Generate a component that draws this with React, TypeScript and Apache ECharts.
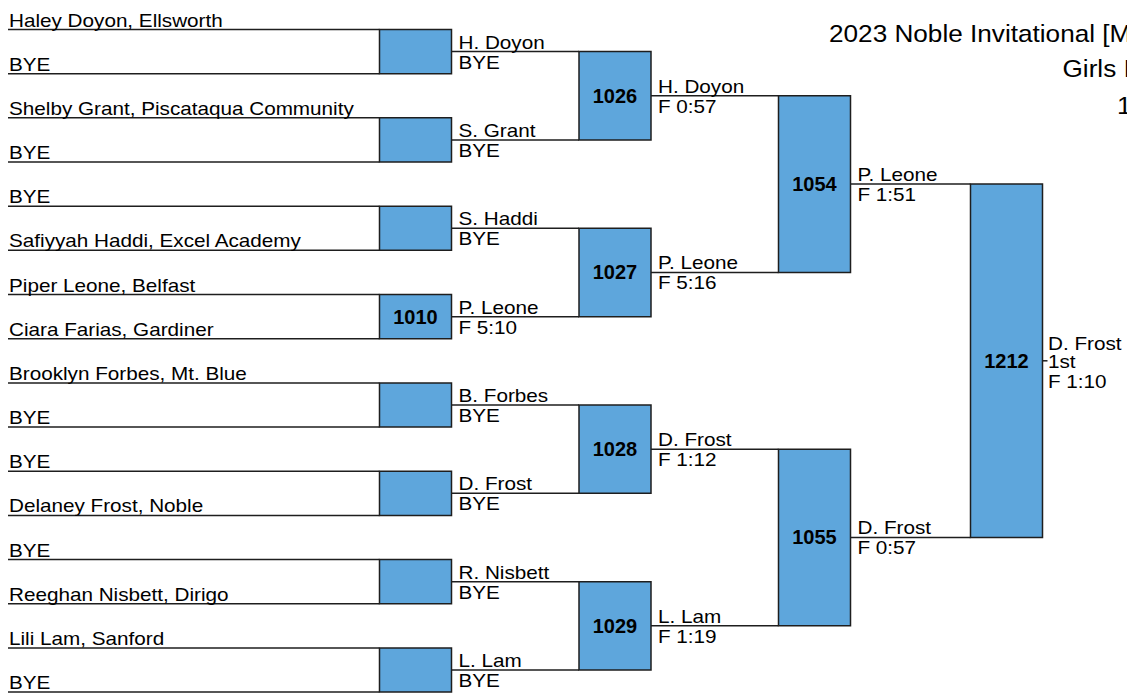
import React, { useEffect, useRef } from "react";
import * as echarts from "echarts";

// ---------- data ----------
const entrants = [
  "Haley Doyon, Ellsworth",
  "BYE",
  "Shelby Grant, Piscataqua Community",
  "BYE",
  "BYE",
  "Safiyyah Haddi, Excel Academy",
  "Piper Leone, Belfast",
  "Ciara Farias, Gardiner",
  "Brooklyn Forbes, Mt. Blue",
  "BYE",
  "BYE",
  "Delaney Frost, Noble",
  "BYE",
  "Reeghan Nisbett, Dirigo",
  "Lili Lam, Sanford",
  "BYE",
];

const round1Bouts = ["", "", "", "1010", "", "", "", ""];
const round1Winners = ["H. Doyon", "S. Grant", "S. Haddi", "P. Leone", "B. Forbes", "D. Frost", "R. Nisbett", "L. Lam"];
const round1Results = ["BYE", "BYE", "BYE", "F 5:10", "BYE", "BYE", "BYE", "BYE"];

const round2Bouts = ["1026", "1027", "1028", "1029"];
const round2Winners = ["H. Doyon", "P. Leone", "D. Frost", "L. Lam"];
const round2Results = ["F 0:57", "F 5:16", "F 1:12", "F 1:19"];

const round3Bouts = ["1054", "1055"];
const round3Winners = ["P. Leone", "D. Frost"];
const round3Results = ["F 1:51", "F 0:57"];

const finalBouts = ["1212"];
const finalWinners = ["D. Frost"];
const finalResults = ["F 1:10"];
const finalPlace = "1st";

const titleLines = ["2023 Noble Invitational [M", "Girls I", "1"];

const rounds = [
  { bouts: round1Bouts, winners: round1Winners, results: round1Results },
  { bouts: round2Bouts, winners: round2Winners, results: round2Results },
  { bouts: round3Bouts, winners: round3Winners, results: round3Results },
  { bouts: finalBouts, winners: finalWinners, results: finalResults },
];

// ---------- layout / style ----------
const W = 1127;
const H = 698;
const BOX_LEFT = [379.5, 579, 778.5, 970.5];
const BOX_W = 72;
const LINE_START = 8;
const FINAL_TICK = 5;
const FONT = "'Liberation Sans', Arial, Helvetica, sans-serif";
const FS = 18;
const SX = 1.15;
const BOLD_FS = 20;
const TITLE_FS = 24;
const TITLE_SX = 1.09;
const LINE_COLOR = "#1e1e1e";
const TEXT_COLOR = "#000";
const BOX_FILL = "#5ea6dc";

function center(r: number, k: number): number {
  if (r === 0) return k;
  const n = Math.pow(2, r);
  return k * n + (n - 1) / 2;
}

export default function App() {
  const ref = useRef<HTMLDivElement>(null);

  useEffect(() => {
    if (!ref.current) return;
    const chart = echarts.init(ref.current, undefined, { renderer: "svg" });

    const matchData: number[][] = [];
    rounds.forEach((rd, ri) => {
      rd.bouts.forEach((_, k) => matchData.push([ri + 1, k]));
    });
    const entrantData = entrants.map((_, j) => [j, j]);

    const txt = (x: number, y: number, text: string, va: string, extra: any = {}) => ({
      type: "text",
      x,
      y,
      scaleX: SX,
      style: {
        text,
        x: 0,
        y: 0,
        fontSize: FS,
        fontFamily: FONT,
        fill: TEXT_COLOR,
        align: "left",
        verticalAlign: va,
        ...extra,
      },
    });

    const titleText = (x: number, y: number, text: string) => ({
      type: "text",
      x,
      y,
      scaleX: TITLE_SX,
      style: {
        text,
        x: 0,
        y: 0,
        fontSize: TITLE_FS,
        fontFamily: FONT,
        fill: TEXT_COLOR,
        align: "left",
        verticalAlign: "middle",
      },
    });

    const option: any = {
      animation: false,
      grid: { left: 0, right: 0, top: 29.5, bottom: 5.9 },
      xAxis: { type: "value", min: 0, max: W, show: false },
      yAxis: { type: "value", min: 0, max: 15, inverse: true, show: false },
      graphic: [
        titleText(829, 33, titleLines[0]),
        titleText(1062.5, 68, titleLines[1]),
        titleText(1117, 105.5, titleLines[2]),
      ],
      series: [
        {
          type: "custom",
          coordinateSystem: "cartesian2d",
          data: entrantData,
          renderItem: (params: any, api: any) => {
            const j = api.value(0);
            const p0 = api.coord([LINE_START, j]);
            const p1 = api.coord([BOX_LEFT[0], j]);
            return {
              type: "group",
              children: [
                {
                  type: "line",
                  shape: { x1: p0[0], y1: p0[1], x2: p1[0], y2: p1[1] },
                  style: { stroke: LINE_COLOR, lineWidth: 1.5 },
                },
                txt(p0[0] + 1, p0[1] - 0.5, entrants[j], "bottom"),
              ],
            };
          },
        },
        {
          type: "custom",
          coordinateSystem: "cartesian2d",
          data: matchData,
          renderItem: (params: any, api: any) => {
            const r = api.value(0);
            const k = api.value(1);
            const rd = rounds[r - 1];
            const top = center(r - 1, 2 * k);
            const bot = center(r - 1, 2 * k + 1);
            const mid = center(r, k);
            const left = BOX_LEFT[r - 1];
            const right = left + BOX_W;
            const pTL = api.coord([left, top]);
            const pBR = api.coord([right, bot]);
            const pM = api.coord([right, mid]);
            const isFinal = r === rounds.length;
            const endX = isFinal ? right + FINAL_TICK : BOX_LEFT[r];
            const pE = api.coord([endX, mid]);
            const children: any[] = [
              {
                type: "line",
                shape: { x1: pM[0], y1: pM[1], x2: pE[0], y2: pE[1] },
                style: { stroke: LINE_COLOR, lineWidth: 1.5 },
              },
              {
                type: "rect",
                shape: { x: pTL[0], y: pTL[1], width: pBR[0] - pTL[0], height: pBR[1] - pTL[1] },
                style: { fill: BOX_FILL, stroke: LINE_COLOR, lineWidth: 1.5 },
              },
            ];
            if (rd.bouts[k]) {
              children.push({
                type: "text",
                x: (pTL[0] + pBR[0]) / 2,
                y: pM[1],
                style: {
                  text: rd.bouts[k],
                  fontSize: BOLD_FS,
                  fontWeight: "bold",
                  fontFamily: FONT,
                  fill: TEXT_COLOR,
                  align: "center",
                  verticalAlign: "middle",
                },
              });
            }
            const tx = pM[0] + 7;
            if (isFinal) {
              children.push(txt(pE[0] + 0.5, pM[1] - 17, rd.winners[k], "middle"));
              children.push(txt(pE[0] + 0.5, pM[1] + 1, finalPlace, "middle"));
              children.push(txt(pE[0] + 0.5, pM[1] + 20.5, rd.results[k], "middle"));
            } else {
              children.push(txt(tx, pM[1] - 0.5, rd.winners[k], "bottom"));
              children.push(txt(tx, pM[1] + 1.5, rd.results[k], "top"));
            }
            return { type: "group", children };
          },
        },
      ],
    };

    chart.setOption(option);
    return () => chart.dispose();
  }, []);

  return (
    <div
      ref={ref}
      style={{ position: "fixed", left: 0, top: 0, width: W, height: H, background: "#fff" }}
    />
  );
}
